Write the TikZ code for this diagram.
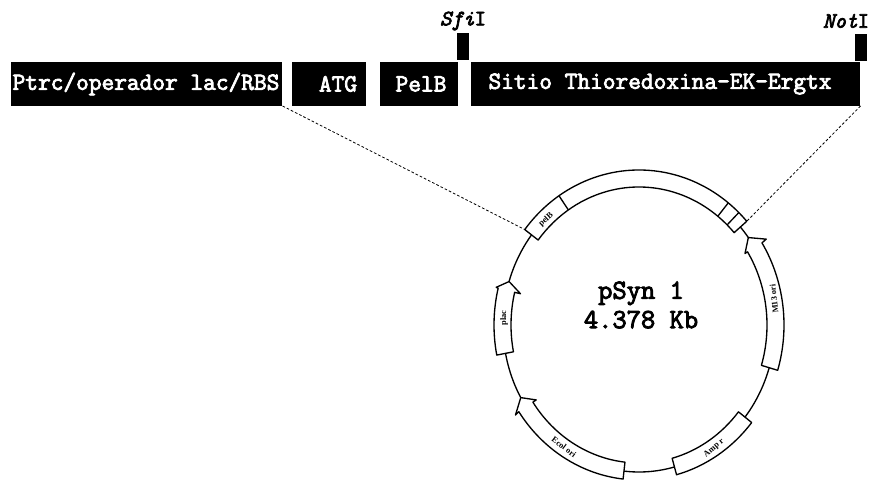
\documentclass[tikz,border=0pt]{standalone}
\usepackage{fontspec}
\newfontfamily\genefont{Liberation Serif}
\newfontfamily\mapfont[FakeBold=3.2]{Latin Modern Mono}
\usepackage{tikz}
\tikzset{
    barbox/.style={fill=black,anchor=south west,inner sep=0pt,minimum height=33pt},
    tickbox/.style={fill=black,anchor=south west,inner sep=0pt,minimum width=8.5pt,minimum height=20pt},
    barlabel/.style={text=white,font=\mapfont\fontsize{18.5}{18}\selectfont,inner sep=0pt},
    sitelabel/.style={font=\mapfont\fontsize{16.5}{17}\selectfont,inner sep=0pt},
    maplabel/.style={font=\mapfont\fontsize{20.8}{22}\selectfont,align=center,inner sep=0pt},
    genelabel/.style={font=\genefont\bfseries\fontsize{6.3}{6}\selectfont,inner sep=0pt},
    feature/.style={draw,fill=white,line width=1pt,line join=round},
    zoomline/.style={line width=0.6pt,dash pattern=on 2pt off 1.5pt}
}
\begin{document}
\begin{tikzpicture}[x=0.75pt,y=0.75pt]
\useasboundingbox (0,0) rectangle (875,481);
% linear map
\node[barbox,minimum width=203.25pt] (promoterbar) at (11,375) {};
\node[barbox,minimum width=55.5pt] (atgbar) at (292,375) {};
\node[barbox,minimum width=58.5pt] (pelbbar) at (380,375) {};
\node[barbox,minimum width=291.75pt] (sitebar) at (471,375) {};
\node[tickbox] (sfitick) at (457,421) {};
\node[tickbox] (nottick) at (855,420) {};
\node[barlabel] (promoter) at (146,397) {Ptrc/operador lac/RBS};
\node[barlabel] (atg) at (338,397) {ATG};
\node[barlabel] (pelbtext) at (421,397) {PelB};
\node[barlabel] (site) at (660,397) {Sitio Thioredoxina-EK-Ergtx};
\node[sitelabel] (sfi) at (463,460) {\textit{Sfi}I};
\node[sitelabel] (not) at (846,460) {\textit{Not}I};
% plasmid
\begin{scope}[shift={(639,156)}]
\draw[line width=1pt] (0,0) ellipse [x radius=136,y radius=147];
% band with the cloning sites
\draw[feature] (142:145 and 155) arc [start angle=142,end angle=42,x radius=145,y radius=155]
    -- (42:128 and 138) arc [start angle=42,end angle=142,x radius=128,y radius=138] -- cycle;
\draw[line width=1pt] (123.5:145 and 155) -- (123.5:128 and 138);
\draw[line width=1pt] (52:145 and 155) -- (52:128 and 138);
\draw[line width=1pt] (46.5:145 and 155) -- (46.5:128 and 138);
% Amp
\draw[feature] (-39:145 and 155) arc [start angle=-39,end angle=-75,x radius=145,y radius=155]
    -- (-75:128 and 138) arc [start angle=-75,end angle=-39,x radius=128,y radius=138] -- cycle;
% M13 ori
\draw[feature] (36.5:136 and 147) -- (32:150 and 162) -- (32:145 and 155)
    arc [start angle=32,end angle=-17,x radius=145,y radius=155]
    -- (-17:128 and 138) arc [start angle=-17,end angle=32,x radius=128,y radius=138]
    -- (32:125 and 135) -- cycle;
% Ecol ori
\draw[feature] (209.6:136 and 147) -- (214:149 and 161) -- (214:145 and 155)
    arc [start angle=214,end angle=263.7,x radius=145,y radius=155]
    -- (263.7:128 and 138) arc [start angle=263.7,end angle=214,x radius=128,y radius=138]
    -- (214:124 and 134) -- cycle;
% plac
\draw[feature] (162.8:136 and 147) -- (166.3:147 and 159) -- (166.3:145 and 155)
    arc [start angle=166.3,end angle=191.2,x radius=145,y radius=155]
    -- (191.2:128 and 138) arc [start angle=191.2,end angle=166.3,x radius=128,y radius=138]
    -- (166.3:122 and 132) -- cycle;
\coordinate (pelbcorner) at (142:145 and 155);
\coordinate (notcorner) at (42:145 and 155);
\end{scope}
\draw[zoomline] (promoterbar.south east) -- (pelbcorner);
\draw[zoomline] (sitebar.south east) -- (notcorner);
\node[maplabel] (name) at (641,176) {pSyn 1\\4.378 Kb};
\node[genelabel,rotate=42] (pelb) at (546,261) {pelB};
\node[genelabel,rotate=90] (plac) at (504,163) {plac};
\node[genelabel,rotate=96] (m13) at (774,182) {M13 ori};
\node[genelabel,rotate=40] (amp) at (714,33) {Amp r};
\node[genelabel,rotate=-38] (ecol) at (564,34) {Ecol ori};
\end{tikzpicture}
\end{document}
